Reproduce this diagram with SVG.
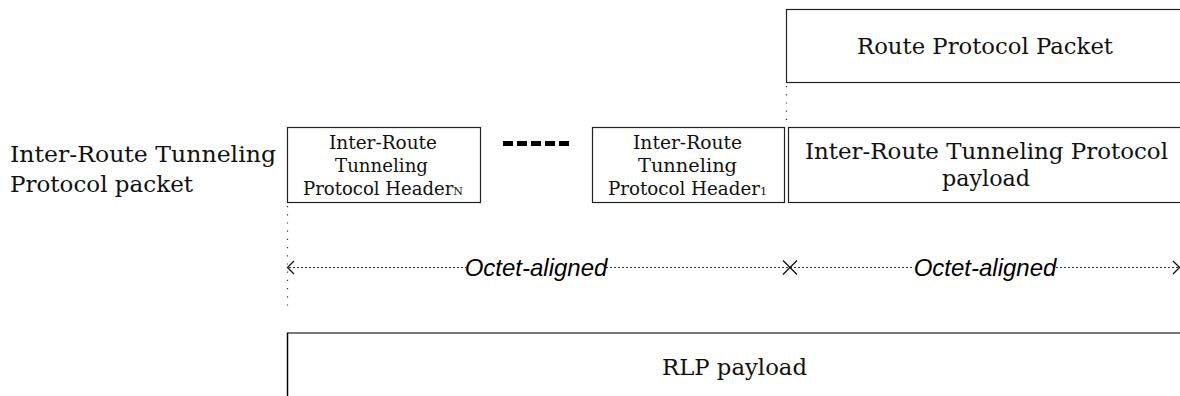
<svg xmlns="http://www.w3.org/2000/svg" width="1180" height="396" viewBox="0 0 1180 396">
<style>
.box{fill:#fff;stroke:#222;stroke-width:1.2}
.t{font-family:"DejaVu Serif","Liberation Serif",serif;fill:#111}
.big{font-size:23px}
.sm{font-size:18px}
.oa{font-family:"Liberation Sans",Arial,sans-serif;font-style:italic;font-size:24px;fill:#000}
.dotv{stroke:#333;stroke-width:1.2;stroke-dasharray:1.2 7}
.doth{stroke:#333;stroke-width:1.2;stroke-dasharray:2 2}
</style>
<rect width="1180" height="396" fill="#fff"/>
<g id="route-protocol-packet">
<rect class="box" x="786.5" y="9.5" width="400" height="73"/>
<text class="t big" x="857" y="54" textLength="256" lengthAdjust="spacingAndGlyphs">Route Protocol Packet</text>
</g>
<g id="irtp-label">
<text class="t big" x="10" y="162" textLength="266" lengthAdjust="spacingAndGlyphs">Inter-Route Tunneling</text>
<text class="t big" x="10" y="192" textLength="183" lengthAdjust="spacingAndGlyphs">Protocol packet</text>
</g>
<g id="header-n">
<rect class="box" x="287.5" y="127.5" width="193" height="75"/>
<text class="t sm" x="329" y="149" textLength="108" lengthAdjust="spacingAndGlyphs">Inter-Route</text>
<text class="t sm" x="335" y="172" textLength="93" lengthAdjust="spacingAndGlyphs">Tunneling</text>
<text class="t sm" x="303" y="195" textLength="160" lengthAdjust="spacingAndGlyphs">Protocol Header<tspan font-size="11">N</tspan></text>
</g>
<g id="ellipsis">
<line x1="503" y1="143.5" x2="572" y2="143.5" stroke="#000" stroke-width="5" stroke-dasharray="10 4"/>
</g>
<g id="header-1">
<rect class="box" x="592.5" y="127.5" width="192" height="75"/>
<text class="t sm" x="633" y="149" textLength="109" lengthAdjust="spacingAndGlyphs">Inter-Route</text>
<text class="t sm" x="638" y="172" textLength="99" lengthAdjust="spacingAndGlyphs">Tunneling</text>
<text class="t sm" x="608" y="195" textLength="159" lengthAdjust="spacingAndGlyphs">Protocol Header<tspan font-size="11">1</tspan></text>
</g>
<g id="irtp-payload">
<rect class="box" x="788.5" y="127.5" width="400" height="75"/>
<text class="t big" x="805" y="159" textLength="363" lengthAdjust="spacingAndGlyphs">Inter-Route Tunneling Protocol</text>
<text class="t big" x="942" y="186" textLength="88" lengthAdjust="spacingAndGlyphs">payload</text>
</g>
<g id="rlp-payload">
<line x1="287" y1="333" x2="1180" y2="333" stroke="#777" stroke-width="2"/>
<line x1="287.5" y1="333" x2="287.5" y2="396" stroke="#000" stroke-width="1.5"/>
<text class="t big" x="662" y="375" textLength="145" lengthAdjust="spacingAndGlyphs">RLP payload</text>
</g>
<g id="connectors">
<line class="dotv" x1="786.5" y1="86" x2="786.5" y2="127"/>
<line class="dotv" x1="287.5" y1="206" x2="287.5" y2="306"/>
<line class="doth" x1="289" y1="267.5" x2="466" y2="267.5"/>
<line class="doth" x1="606" y1="267.5" x2="914" y2="267.5"/>
<line class="doth" x1="1056" y1="267.5" x2="1178" y2="267.5"/>
<polyline points="294,261 287.5,267.5 294,274" fill="none" stroke="#111" stroke-width="1.3"/>
<polyline points="1173,261 1179.5,267.5 1173,274" fill="none" stroke="#111" stroke-width="1.3"/>
<path d="M783,260.5 L797,274.5 M797,260.5 L783,274.5" stroke="#111" stroke-width="1.3"/>
</g>
<g id="labels">
<text class="oa" x="536" y="276" text-anchor="middle">Octet-aligned</text>
<text class="oa" x="985" y="276" text-anchor="middle">Octet-aligned</text>
</g>
</svg>
